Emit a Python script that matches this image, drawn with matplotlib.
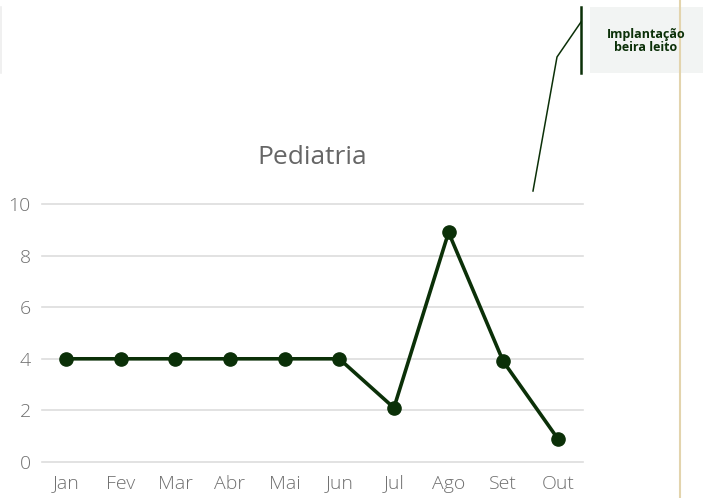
import matplotlib.pyplot as plt
from matplotlib.patches import Rectangle
from matplotlib.lines import Line2D

months = ["Jan", "Fev", "Mar", "Abr", "Mai", "Jun", "Jul", "Ago", "Set", "Out"]
values = [4, 4, 4, 4, 4, 4, 2.1, 8.9, 3.9, 0.9]
yticks = [0, 2, 4, 6, 8, 10]
title = "Pediatria"
note = "Implantação\nbeira leito"

W, H = 706, 498
green = "#0b3008"

plt.rcParams['font.family'] = ['Open Sans', 'DejaVu Sans']
fig = plt.figure(figsize=(W / 100, H / 100), dpi=100)

ax = fig.add_axes([42 / W, (H - 462) / H, (583 - 42) / W, (462 - 204) / H])
x = list(range(len(months)))
ax.plot(x, values, color=green, lw=2.6, marker="o", ms=9.5, zorder=3, clip_on=False)
ax.set_xlim(-0.44, 9.46)
ax.set_ylim(0, 10)
ax.set_yticks(yticks)
ax.set_xticks(x)
ax.set_xticklabels(months)
for s in ax.spines.values():
    s.set_visible(False)
ax.grid(axis="y", color="#dddddd", lw=1.2, clip_on=False)
ax.tick_params(length=0, labelsize=14, labelcolor="#707070")
for lab in ax.get_xticklabels() + ax.get_yticklabels():
    lab.set_fontweight("light")
ax.tick_params(axis="x", pad=9)
ax.tick_params(axis="y", pad=8)
ax.set_title(title, fontsize=19, color="#666666", pad=29)

# decorations in pixel coordinates
def px(xp, yp):
    return xp / W, 1 - yp / H

fig.add_artist(Line2D([px(1, 0)[0]] * 2, [px(0, 7)[1], px(0, 73)[1]], color="#eeeeee", lw=1.2))
fig.add_artist(Line2D([px(680, 0)[0]] * 2, [0, 1], color="#e3d4ad", lw=1.5))
fig.add_artist(Rectangle(px(590, 73), 113 / W, 66 / H, color="#f2f4f3", lw=0))
fig.text(*px(646, 41), note, ha="center", va="center", fontsize=9,
         fontweight="bold", color=green, linespacing=1.05)
fig.add_artist(Line2D([px(581, 0)[0]] * 2, [px(0, 7)[1], px(0, 73)[1]], color=green, lw=1.8))
pts = [px(533, 191), px(557, 57), px(581, 22)]
fig.add_artist(Line2D([p[0] for p in pts], [p[1] for p in pts], color=green, lw=1.1))

fig.savefig("out.png", dpi=100)
